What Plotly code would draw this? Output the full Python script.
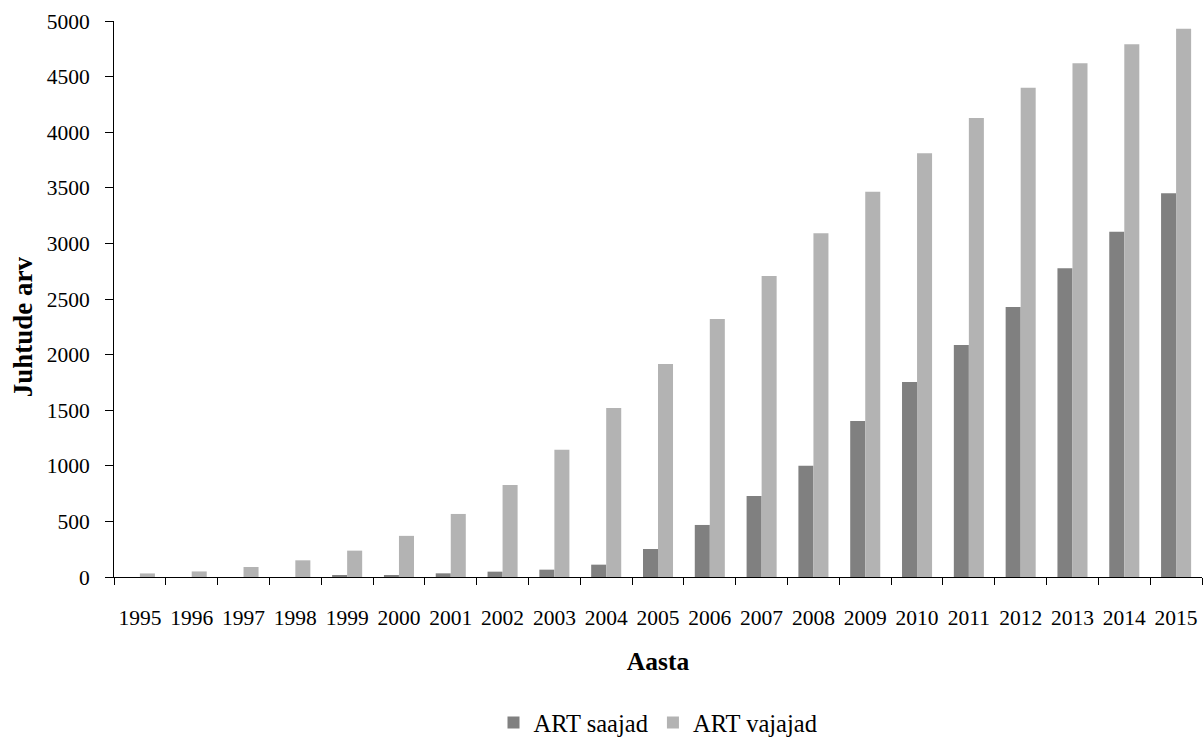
import plotly.graph_objects as go

# Data: ART recipients and those needing ART, by year
years = [str(y) for y in range(1995, 2016)]
art_saajad = [0, 0, 0, 0, 15, 15, 33, 48, 66, 111, 252, 468, 728, 1001,
              1403, 1754, 2086, 2428, 2776, 3105, 3451]
art_vajajad = [32, 50, 90, 150, 237, 370, 567, 827, 1145, 1520, 1915, 2320,
               2707, 3091, 3465, 3810, 4128, 4400, 4620, 4790, 4931]
y_ticks = list(range(0, 5001, 500))

FONT = "Times New Roman, Liberation Serif, serif"

fig = go.Figure()
fig.add_trace(go.Bar(x=years, y=art_saajad, name="ART saajad",
                     marker=dict(color="#808080", line=dict(width=0))))
fig.add_trace(go.Bar(x=years, y=art_vajajad, name="ART vajajad",
                     marker=dict(color="#b3b3b3", line=dict(width=0))))

fig.update_layout(
    width=1203, height=738,
    margin=dict(l=114, r=1, t=21, b=161, autoexpand=False),
    paper_bgcolor="white", plot_bgcolor="white",
    font=dict(family=FONT, size=21, color="black"),
    barmode="group", bargap=0.42, bargroupgap=0,
    showlegend=True,
    legend=dict(orientation="h", x=0.5, xanchor="center", xref="paper",
                y=-0.262, yanchor="middle", yref="paper",
                font=dict(family=FONT, size=24.5, color="black"),
                itemclick=False, traceorder="normal"),
)

fig.update_xaxes(
    type="category", tickson="boundaries", ticks="outside", ticklen=7,
    tickcolor="black", showline=True, linecolor="black", linewidth=1,
    showgrid=False, tickangle=0, automargin=False,
    tickfont=dict(family=FONT, size=21.5, color="black"),
    ticklabelstandoff=21,
    title=dict(text="<b>Aasta</b>", font=dict(family=FONT, size=25.5, color="black"),
               standoff=23),
)
fig.update_yaxes(
    range=[0, 5000], tickvals=y_ticks, ticks="outside", ticklen=8,
    tickcolor="black", showline=True, linecolor="black", linewidth=1,
    showgrid=False, zeroline=False, automargin=False,
    tickfont=dict(family=FONT, size=21.5, color="black"),
    ticklabelstandoff=11,
)

fig.add_annotation(
    text="<b>Juhtude arv</b>", textangle=-90, showarrow=False,
    xref="paper", yref="paper", x=-0.0841, y=0.45,
    xanchor="center", yanchor="middle",
    font=dict(family=FONT, size=27, color="black"),
)

fig.write_html("out.html")
